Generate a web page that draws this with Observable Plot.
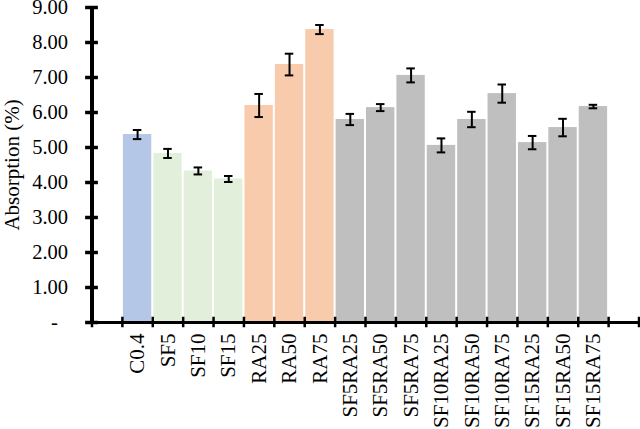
<!DOCTYPE html>
<html>
<head>
<meta charset="utf-8">
<script src="https://cdn.jsdelivr.net/npm/d3@7"></script>
<script src="https://cdn.jsdelivr.net/npm/@observablehq/plot@0.6"></script>
<style>
  html, body { margin: 0; padding: 0; background: #fff; }
  svg { display: block; }
</style>
</head>
<body>
<div id="chart"></div>
<script>
const categories = ["C0.4","SF5","SF10","SF15","RA25","RA50","RA75",
  "SF5RA25","SF5RA50","SF5RA75","SF10RA25","SF10RA50","SF10RA75",
  "SF15RA25","SF15RA50","SF15RA75"];
const groups = ["control","SF","SF","SF","RA","RA","RA",
  "mix","mix","mix","mix","mix","mix","mix","mix","mix"];
const values = [5.37,4.83,4.33,4.10,6.20,7.37,8.37,
  5.80,6.14,7.06,5.06,5.80,6.54,5.14,5.57,6.17];
const errors = [0.13,0.13,0.10,0.085,0.33,0.31,0.13,
  0.16,0.10,0.20,0.20,0.22,0.26,0.19,0.25,0.05];
const yTicks = [0,1,2,3,4,5,6,7,8,9];
const groupColors = {control: "#B4C7E7", SF: "#E2EFDA", RA: "#F8CBAD", mix: "#BFBFBF"};

const data = categories.map((name, k) => ({
  name, slot: k + 1, group: groups[k], value: values[k], err: errors[k]
}));
const slotEdges = d3.range(0, categories.length + 3);

const font = "'Liberation Serif', 'Times New Roman', serif";

const chart = Plot.plot({
  width: 640,
  height: 429,
  marginLeft: 91.5,
  marginRight: 1.5,
  marginTop: 7,
  marginBottom: 107,
  style: {fontFamily: font, fontSize: "20px", color: "black", background: "white"},
  x: {domain: [0, categories.length + 2], axis: null},
  y: {domain: [0, 9], axis: null},
  marks: [
    Plot.rectY(data, {
      x1: d => d.slot, x2: d => d.slot + 1, y: "value",
      fill: d => groupColors[d.group], insetLeft: 1, insetRight: 1
    }),
    Plot.ruleX(data, {
      x: d => d.slot + 0.5, y1: d => d.value - d.err, y2: d => d.value + d.err,
      stroke: "black", strokeWidth: 2
    }),
    Plot.ruleY(data, {
      y: d => d.value - d.err, x1: d => d.slot + 0.36, x2: d => d.slot + 0.64,
      stroke: "black", strokeWidth: 2
    }),
    Plot.ruleY(data, {
      y: d => d.value + d.err, x1: d => d.slot + 0.36, x2: d => d.slot + 0.64,
      stroke: "black", strokeWidth: 2
    }),
    // y axis
    Plot.ruleX([0], {y1: 0, y2: 9, stroke: "black", strokeWidth: 4}),
    Plot.ruleY(yTicks, {y: d => d, x1: -0.21, x2: 0.21, stroke: "black", strokeWidth: 3.5}),
    Plot.text(yTicks, {
      x: 0, y: d => d, dx: -24, textAnchor: "end", fill: "black", fontSize: 20.5,
      text: d => d === 0 ? "-\u00a0\u00a0" : d.toFixed(2)
    }),
    // x axis
    Plot.ruleY([0], {stroke: "black", strokeWidth: 3}),
    Plot.ruleX(slotEdges, {x: d => d, y1: -0.15, y2: 0.15, stroke: "black", strokeWidth: 2.5}),
    Plot.text(data, {
      x: d => d.slot + 0.5, y: 0, dy: 11, text: "name", fontSize: 21,
      rotate: -90, textAnchor: "end", fill: "black"
    }),
    // axis title
    Plot.text(["Absorption (%)"], {
      frameAnchor: "left", dx: -80, rotate: -90, fontSize: 21,
      textAnchor: "middle", fill: "black"
    })
  ]
});
document.getElementById("chart").appendChild(chart);
</script>
</body>
</html>
